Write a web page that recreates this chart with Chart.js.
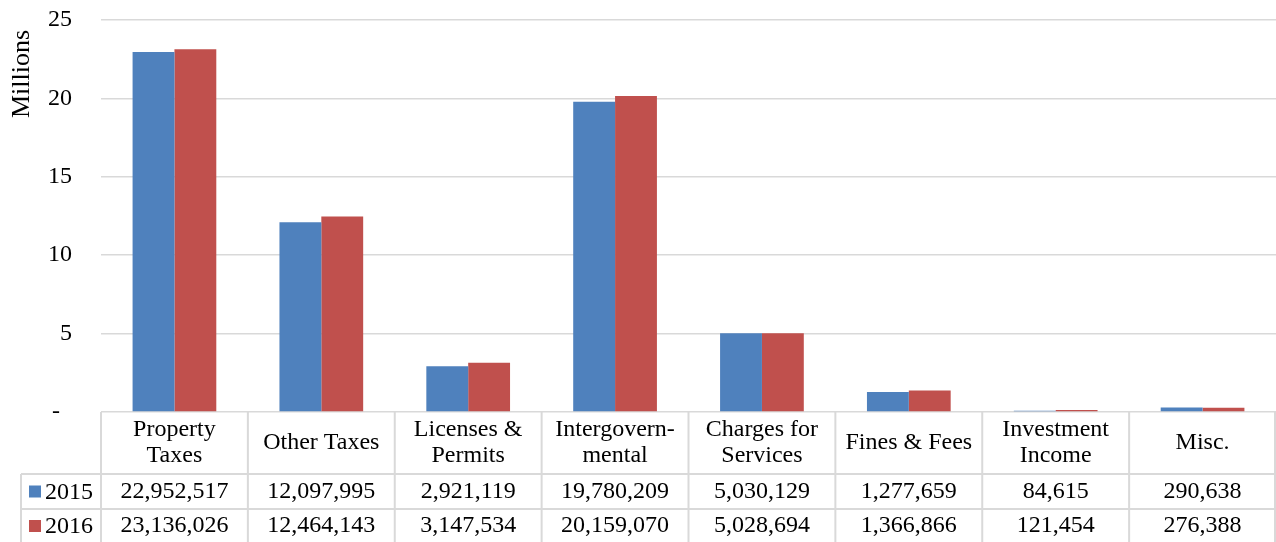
<!DOCTYPE html>
<html>
<head>
<meta charset="utf-8">
<script src="https://cdn.jsdelivr.net/npm/chart.js@4/dist/chart.umd.min.js"></script>
<style>
  html, body { margin: 0; padding: 0; background: #fff; }
  #wrap { width: 1276px; height: 542px; position: relative; }
</style>
</head>
<body>
<div id="wrap"><canvas id="revenueChart"></canvas></div>
<script>
const categories = [
  ["Property", "Taxes"],
  ["Other Taxes"],
  ["Licenses &", "Permits"],
  ["Intergovern-", "mental"],
  ["Charges for", "Services"],
  ["Fines & Fees"],
  ["Investment", "Income"],
  ["Misc."]
];
const seriesNames = ["2015", "2016"];
const values2015 = [22952517, 12097995, 2921119, 19780209, 5030129, 1277659, 84615, 290638];
const values2016 = [23136026, 12464143, 3147534, 20159070, 5028694, 1366866, 121454, 276388];
const seriesColors = ["#4F81BD", "#C0504D"];
const yTicks = [0, 5, 10, 15, 20, 25];

const FONT = "'Liberation Serif', 'Times New Roman', serif";
const GRID = "#d9d9d9";

const dataTablePlugin = {
  id: "dataTable",
  afterDraw(chart) {
    const ctx = chart.ctx;
    const x = chart.scales.x;
    const area = chart.chartArea;
    const headTop = area.bottom;
    const row1 = headTop + 62;
    const row2 = row1 + 35;
    const bottom = chart.height;
    const legendLeft = 21;
    const step = (area.right - area.left) / categories.length;

    ctx.save();
    ctx.strokeStyle = GRID;
    ctx.lineWidth = 2;
    ctx.beginPath();
    [row1, row2].forEach((yy) => {
      ctx.moveTo(legendLeft, yy);
      ctx.lineTo(area.right, yy);
    });
    for (let i = 0; i <= categories.length; i++) {
      const xx = Math.min(area.left + step * i, area.right - 1);
      ctx.moveTo(xx, headTop);
      ctx.lineTo(xx, bottom);
    }
    ctx.moveTo(legendLeft, row1);
    ctx.lineTo(legendLeft, bottom);
    ctx.stroke();

    ctx.fillStyle = "#000";
    ctx.font = `24px ${FONT}`;
    ctx.textAlign = "center";
    ctx.textBaseline = "middle";
    categories.forEach((lines, i) => {
      const cx = x.getPixelForValue(i);
      const mid = (headTop + row1) / 2;
      const lh = 26;
      lines.forEach((line, j) => {
        ctx.fillText(line, cx, mid + (j - (lines.length - 1) / 2) * lh);
      });
    });

    const rows = [values2015, values2016];
    const rowMids = [(row1 + row2) / 2, row2 + 17];
    rows.forEach((vals, r) => {
      ctx.textAlign = "center";
      vals.forEach((v, i) => {
        ctx.fillText(v.toLocaleString("en-US"), x.getPixelForValue(i), rowMids[r]);
      });
      ctx.fillStyle = seriesColors[r];
      ctx.fillRect(29, rowMids[r] - 6, 12, 12);
      ctx.fillStyle = "#000";
      ctx.textAlign = "left";
      ctx.fillText(seriesNames[r], 45, rowMids[r] + 1);
    });

    // axis title sits near the top, not centred on the axis
    ctx.translate(22, 74);
    ctx.rotate(-Math.PI / 2);
    ctx.textAlign = "center";
    ctx.font = `26px ${FONT}`;
    ctx.fillText("Millions", 0, 0);
    ctx.restore();
  }
};

new Chart(document.getElementById("revenueChart"), {
  type: "bar",
  data: {
    labels: categories,
    datasets: [
      { label: seriesNames[0], data: values2015, backgroundColor: seriesColors[0] },
      { label: seriesNames[1], data: values2016, backgroundColor: seriesColors[1] }
    ]
  },
  options: {
    responsive: true,
    maintainAspectRatio: false,
    animation: false,
    layout: { padding: { top: 20, bottom: 130, left: 0, right: 0 } },
    datasets: { bar: { categoryPercentage: 0.57, barPercentage: 1.0 } },
    plugins: { legend: { display: false }, tooltip: { enabled: false } },
    scales: {
      x: { display: false },
      y: {
        min: 0,
        max: 25000000,
        afterFit(scale) {
          scale.width = 101;
          scale.paddingTop = 0;
          scale.paddingBottom = 0;
        },
        afterBuildTicks(scale) {
          scale.ticks = yTicks.map((t) => ({ value: t * 1000000 }));
        },
        border: { display: false },
        grid: { color: GRID, lineWidth: 1.5, drawTicks: false },
        ticks: {
          padding: 29,
          color: "#000",
          font: { family: FONT, size: 24 },
          callback(value) {
            // accounting-style zero: a dash with trailing space
            return value === 0 ? "-\u00a0\u00a0" : String(value / 1000000);
          }
        }
      }
    }
  },
  plugins: [dataTablePlugin]
});
</script>
</body>
</html>
